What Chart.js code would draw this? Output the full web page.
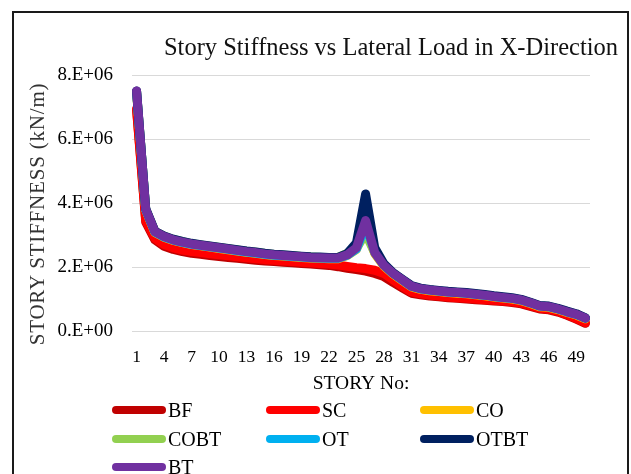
<!DOCTYPE html>
<html>
<head>
<meta charset="utf-8">
<script src="https://cdn.jsdelivr.net/npm/chart.js@4.4.1/dist/chart.umd.min.js"></script>
<style>
  body { margin: 0; background: #fff; }
  #wrap { position: relative; width: 631px; height: 474px; overflow: hidden; font-family: 'Liberation Serif', 'Times New Roman', serif; }
  #frame { position: absolute; left: 12px; top: 11px; width: 613px; height: 500px; border: 2px solid #1a1a1a; }
  #chart { position: absolute; left: 0; top: 0; }
  #title { position: absolute; left: 91px; width: 600px; top: 33px; text-align: center; font-size: 24.5px; line-height: 28px; color: #111; }
  #ytitle { position: absolute; left: -113px; top: 202px; width: 300px; height: 24px; line-height: 24px; text-align: center;
            font-size: 21px; letter-spacing: 0.8px; color: #333; transform: rotate(-90deg); white-space: nowrap; }
  .item { position: absolute; height: 24px; display: flex; align-items: center; font-size: 20px; color: #000; }
  .item span.sw { display: inline-block; width: 54px; height: 8px; border-radius: 4px; margin-right: 2px; }
</style>
</head>
<body>
<div id="wrap">
  <div id="frame"></div>
  <canvas id="chart" width="631" height="474"></canvas>
  <div id="title">Story Stiffness vs Lateral Load in X-Direction</div>
  <div id="ytitle">STORY STIFFNESS (kN/m)</div>
  <div id="legend"></div>
</div>
<script>
// numero de piso
const stories = [1, 2, 3, 4, 5, 6, 7, 8, 9, 10, 11, 12, 13, 14, 15, 16, 17, 18, 19, 20,
    21, 22, 23, 24, 25, 26, 27, 28, 29, 30, 31, 32, 33, 34, 35, 36, 37, 38, 39, 40,
    41, 42, 43, 44, 45, 46, 47, 48, 49, 50];

const yTicks = [0, 2e6, 4e6, 6e6, 8e6];

// rigidez de piso (kN/m)
const BF = [6.90e6, 3.40e6, 2.85e6, 2.65e6, 2.55e6, 2.48e6, 2.43e6, 2.40e6, 2.36e6, 2.33e6,
    2.30e6, 2.27e6, 2.24e6, 2.21e6, 2.19e6, 2.17e6, 2.15e6, 2.13e6, 2.11e6, 2.09e6,
    2.07e6, 2.05e6, 2.01e6, 1.96e6, 1.92e6, 1.87e6, 1.80e6, 1.70e6, 1.52e6, 1.35e6,
    1.18e6, 1.13e6, 1.09e6, 1.07e6, 1.04e6, 1.02e6, 1.00e6, 0.98e6, 0.96e6, 0.94e6,
    0.92e6, 0.89e6, 0.85e6, 0.77e6, 0.69e6, 0.66e6, 0.59e6, 0.49e6, 0.37e6, 0.24e6];
const SC = [6.95e6, 3.45e6, 2.90e6, 2.70e6, 2.60e6, 2.53e6, 2.48e6, 2.45e6, 2.41e6, 2.38e6,
    2.35e6, 2.32e6, 2.29e6, 2.26e6, 2.23e6, 2.21e6, 2.19e6, 2.17e6, 2.15e6, 2.13e6,
    2.11e6, 2.09e6, 2.06e6, 2.02e6, 1.98e6, 1.95e6, 1.90e6, 1.80e6, 1.60e6, 1.40e6,
    1.22e6, 1.16e6, 1.12e6, 1.09e6, 1.06e6, 1.04e6, 1.02e6, 1.00e6, 0.98e6, 0.96e6,
    0.94e6, 0.91e6, 0.87e6, 0.79e6, 0.71e6, 0.68e6, 0.61e6, 0.51e6, 0.39e6, 0.26e6];
const CO = [7.45e6, 3.78e6, 3.08e6, 2.93e6, 2.83e6, 2.76e6, 2.70e6, 2.66e6, 2.62e6, 2.58e6,
    2.54e6, 2.50e6, 2.46e6, 2.43e6, 2.39e6, 2.36e6, 2.34e6, 2.32e6, 2.30e6, 2.28e6,
    2.27e6, 2.26e6, 2.26e6, 2.36e6, 2.55e6, 3.20e6, 2.42e6, 2.03e6, 1.78e6, 1.58e6,
    1.38e6, 1.30e6, 1.26e6, 1.23e6, 1.20e6, 1.18e6, 1.16e6, 1.13e6, 1.10e6, 1.06e6,
    1.03e6, 1.00e6, 0.95e6, 0.86e6, 0.76e6, 0.74e6, 0.67e6, 0.58e6, 0.50e6, 0.38e6];
const COBT = [7.48e6, 3.80e6, 3.11e6, 2.96e6, 2.86e6, 2.79e6, 2.73e6, 2.69e6, 2.65e6, 2.61e6,
    2.57e6, 2.53e6, 2.49e6, 2.46e6, 2.42e6, 2.39e6, 2.37e6, 2.35e6, 2.33e6, 2.31e6,
    2.30e6, 2.29e6, 2.30e6, 2.43e6, 2.58e6, 3.05e6, 2.44e6, 2.05e6, 1.80e6, 1.60e6,
    1.40e6, 1.32e6, 1.28e6, 1.25e6, 1.22e6, 1.20e6, 1.18e6, 1.15e6, 1.12e6, 1.08e6,
    1.05e6, 1.02e6, 0.97e6, 0.88e6, 0.78e6, 0.76e6, 0.69e6, 0.60e6, 0.52e6, 0.40e6];
const OT = [7.47e6, 3.79e6, 3.09e6, 2.94e6, 2.84e6, 2.77e6, 2.71e6, 2.67e6, 2.63e6, 2.59e6,
    2.55e6, 2.51e6, 2.47e6, 2.44e6, 2.40e6, 2.37e6, 2.35e6, 2.33e6, 2.31e6, 2.29e6,
    2.28e6, 2.27e6, 2.27e6, 2.37e6, 2.56e6, 3.30e6, 2.50e6, 2.07e6, 1.80e6, 1.60e6,
    1.40e6, 1.32e6, 1.28e6, 1.25e6, 1.22e6, 1.20e6, 1.18e6, 1.15e6, 1.12e6, 1.08e6,
    1.05e6, 1.02e6, 0.97e6, 0.88e6, 0.78e6, 0.76e6, 0.69e6, 0.60e6, 0.52e6, 0.40e6];
const OTBT = [7.50e6, 3.82e6, 3.12e6, 2.97e6, 2.87e6, 2.80e6, 2.74e6, 2.70e6, 2.66e6, 2.62e6,
    2.58e6, 2.54e6, 2.50e6, 2.47e6, 2.43e6, 2.40e6, 2.38e6, 2.36e6, 2.34e6, 2.32e6,
    2.31e6, 2.30e6, 2.30e6, 2.42e6, 2.75e6, 4.28e6, 2.60e6, 2.10e6, 1.82e6, 1.62e6,
    1.42e6, 1.34e6, 1.30e6, 1.27e6, 1.24e6, 1.22e6, 1.20e6, 1.17e6, 1.14e6, 1.10e6,
    1.07e6, 1.04e6, 0.99e6, 0.90e6, 0.80e6, 0.78e6, 0.71e6, 0.62e6, 0.54e6, 0.41e6];
const BT = [7.50e6, 3.80e6, 3.10e6, 2.95e6, 2.85e6, 2.78e6, 2.72e6, 2.68e6, 2.64e6, 2.60e6,
    2.56e6, 2.52e6, 2.48e6, 2.45e6, 2.41e6, 2.38e6, 2.36e6, 2.34e6, 2.32e6, 2.30e6,
    2.29e6, 2.28e6, 2.28e6, 2.38e6, 2.60e6, 3.45e6, 2.45e6, 2.05e6, 1.80e6, 1.60e6,
    1.40e6, 1.32e6, 1.28e6, 1.25e6, 1.22e6, 1.20e6, 1.18e6, 1.15e6, 1.12e6, 1.08e6,
    1.05e6, 1.02e6, 0.97e6, 0.88e6, 0.78e6, 0.76e6, 0.69e6, 0.60e6, 0.52e6, 0.40e6];

const names = ['BF', 'SC', 'CO', 'COBT', 'OT', 'OTBT', 'BT'];
const series = [BF, SC, CO, COBT, OT, OTBT, BT];
const colors = ['#C00000', '#FF0000', '#FFC000', '#92D050', '#00B0F0', '#002060', '#7030A0'];

// formato tipo Excel 0.E+00
function sci(v) {
    if (v === 0) return '0.E+00';
    const e = Math.floor(Math.log10(v));
    const m = Math.round(v / Math.pow(10, e));
    return m + '.E+' + String(e).padStart(2, '0');
}

Chart.defaults.font.family = "'Liberation Serif', 'Times New Roman', serif";

const datasets = names.map((n, i) => ({
    label: n,
    data: series[i],
    borderColor: colors[i],
    backgroundColor: colors[i],
    borderWidth: 9,
    borderCapStyle: 'round',
    borderJoinStyle: 'round',
    pointRadius: 0,
    tension: 0,
    fill: false,
    order: names.length - i   // BT arriba, BF abajo
}));

const ctx = document.getElementById('chart').getContext('2d');
const chart = new Chart(ctx, {
    type: 'line',
    data: { labels: stories, datasets: datasets },
    options: {
        responsive: false,
        animation: false,
        layout: { padding: { top: 75, right: 41, bottom: 74, left: 14 } },
        plugins: {
            legend: { display: false },
            tooltip: { enabled: false }
        },
        scales: {
            x: {
                offset: true,
                grid: { display: false, drawTicks: false },
                border: { display: false },
                ticks: {
                    autoSkip: false,
                    maxRotation: 0,
                    padding: 16,
                    color: '#000',
                    font: { size: 17.5 },
                    callback: function(v, i) {
                        return i % 3 === 0 ? this.getLabelForValue(v) : '';
                    }
                },
                title: {
                    display: true,
                    text: 'STORY No:',
                    color: '#000',
                    font: { size: 19.5 },
                    padding: { top: 4, bottom: 4 }
                },
                afterFit: s => { s.height = 69; }
            },
            y: {
                min: 0,
                max: 8e6,
                afterBuildTicks: s => { s.ticks = yTicks.map(v => ({ value: v })); },
                grid: { color: '#d9d9d9', drawTicks: false },
                border: { display: false },
                ticks: {
                    padding: 19,
                    color: '#000',
                    font: { size: 19 },
                    callback: v => sci(v)
                },
                afterFit: s => { s.width = 118; }
            }
        }
    }
});

// leyenda en 3 columnas
const legend = document.getElementById('legend');
const colX = [112, 266, 420];
const rowY = [398, 427, 455];
names.forEach((n, i) => {
    const d = document.createElement('div');
    d.className = 'item';
    d.style.left = colX[i % 3] + 'px';
    d.style.top = rowY[Math.floor(i / 3)] + 'px';
    d.innerHTML = '<span class="sw" style="background:' + colors[i] + '"></span>' + n;
    legend.appendChild(d);
});
</script>
</body>
</html>
